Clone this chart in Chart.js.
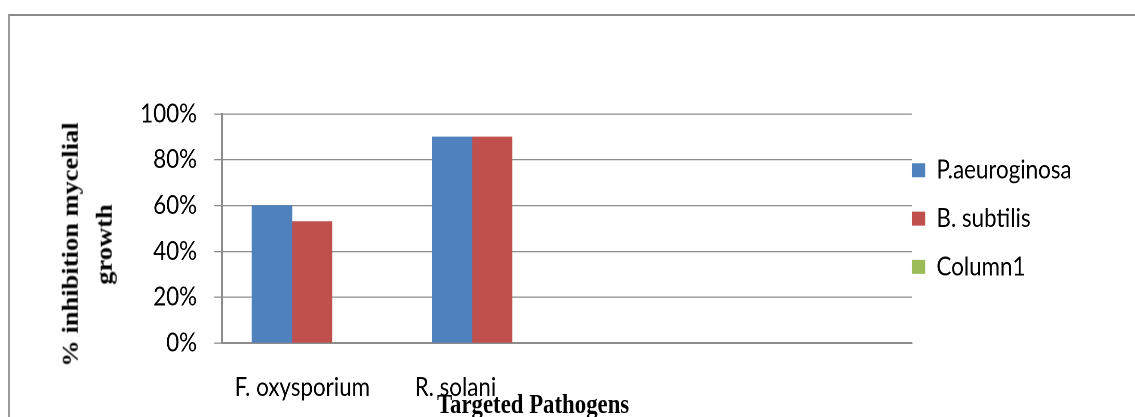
<!DOCTYPE html>
<html>
<head>
<meta charset="utf-8">
<script src="https://cdn.jsdelivr.net/npm/chart.js@4/dist/chart.umd.min.js"></script>
<style>
  html, body { margin:0; padding:0; background:#fff; overflow:hidden; width:1135px; height:417px; }
  #frame { position:absolute; left:8px; top:14px; width:1200px; height:500px;
           border-left:2px solid #9a9a9a; border-top:2px solid #8a8a8a; }
  #wrap { position:absolute; left:0; top:0; height:417px; transform-origin:0 0; }
  #c { display:block; }
  #ytitle { position:absolute; width:400px; height:79px; text-align:center;
            font:bold 26.5px "Liberation Serif", "Times New Roman", serif; line-height:39.5px; color:#000;
            white-space:nowrap; transform:rotate(-90deg); transform-origin:50% 50%; }
  #xtitle { position:absolute; white-space:nowrap;
            font:bold 26.5px "Liberation Serif", "Times New Roman", serif; line-height:1; color:#000; }
</style>
</head>
<body>
<div id="frame"></div>
<div id="wrap">
  <canvas id="c"></canvas>
  <div id="ytitle">% inhibition mycelial<br>growth</div>
  <div id="xtitle">Targeted Pathogens</div>
</div>
<script>
// ---- data ----
const categories = ['F. oxysporium', 'R. solani'];
const seriesNames = ['P.aeuroginosa', 'B. subtilis', 'Column1'];
const pAeruginosa = [60, 90];
const bSubtilis = [53, 90];
const column1 = [null, null];
const yTickValues = [0, 20, 40, 60, 80, 100];

// ---- layout (reference is horizontally compressed) ----
const S = 0.86;
const W = Math.round(1135 / S);
const H = 417;
const wrap = document.getElementById('wrap');
wrap.style.width = W + 'px';
wrap.style.transform = 'scaleX(' + S + ')';
const canvas = document.getElementById('c');
canvas.width = W; canvas.height = H;
canvas.style.width = W + 'px'; canvas.style.height = H + 'px';

const yt = document.getElementById('ytitle');
yt.style.left = (102.2 - 200) + 'px';
yt.style.top = (244.5 - 39.5) + 'px';
const xt = document.getElementById('xtitle');
xt.style.left = (437 / S) + 'px';
xt.style.top = '391px';

const plotLeft = 222 / S, plotRight = 912 / S, catWidth = 180 / S;
const xSpan = (plotRight - plotLeft) / catWidth;

const toPoints = arr => arr.map((v, i) => ({ x: i + 0.5, y: v }));

const sansFont = { family: 'Lato, "Noto Sans", sans-serif', size: 26 };
const gridGray = '#8c8c8c';

const legendPlace = {
  id: 'legendPlace',
  afterLayout(chart) {
    const l = chart.legend;
    const pad = l.options.labels.padding;
    l.left = 912 / S - pad;
    l.right = chart.width;
    l.top = 135;
    l.bottom = chart.height;
  }
};

Chart.defaults.color = '#000';

new Chart(canvas, {
  type: 'bar',
  data: {
    datasets: [
      { label: seriesNames[0], data: toPoints(pAeruginosa), backgroundColor: '#4F81BD' },
      { label: seriesNames[1], data: toPoints(bSubtilis), backgroundColor: '#C0504D' },
      { label: seriesNames[2], data: toPoints(column1), backgroundColor: '#9BBB59' }
    ]
  },
  options: {
    responsive: false,
    animation: false,
    devicePixelRatio: 2,
    datasets: { bar: { barThickness: 40 / S, borderWidth: 0 } },
    layout: { padding: { left: 0, top: 114, right: W - plotRight - 1, bottom: 0 } },
    plugins: {
      legend: {
        position: 'right',
        align: 'start',
        maxWidth: 1,
        labels: { font: sansFont, color: '#000', boxWidth: 13.3 / S, boxHeight: 14, padding: 22.3 }
      },
      tooltip: { enabled: false },
      title: { display: false }
    },
    scales: {
      x: {
        type: 'linear',
        min: 0,
        max: xSpan,
        offset: false,
        grid: { display: false, drawTicks: false },
        border: { display: true, color: gridGray, width: 2 },
        afterBuildTicks: s => { s.ticks = categories.map((c, i) => ({ value: i + 0.5 })); },
        ticks: {
          autoSkip: false, maxRotation: 0, align: 'start', labelOffset: -90, padding: 29,
          font: sansFont, color: '#000',
          callback: v => categories[Math.round(v - 0.5)]
        },
        afterFit: s => { s.height = H - 343; }
      },
      y: {
        min: 0,
        max: 100,
        grid: { color: gridGray, lineWidth: 1.3, tickLength: 9 },
        border: { display: true, color: gridGray, width: 2 },
        afterBuildTicks: s => { s.ticks = yTickValues.map(v => ({ value: v })); },
        ticks: { padding: 20, font: sansFont, color: '#000', callback: v => v + '%' },
        afterFit: s => { s.width = plotLeft; }
      }
    }
  },
  plugins: [legendPlace]
});
</script>
</body>
</html>
